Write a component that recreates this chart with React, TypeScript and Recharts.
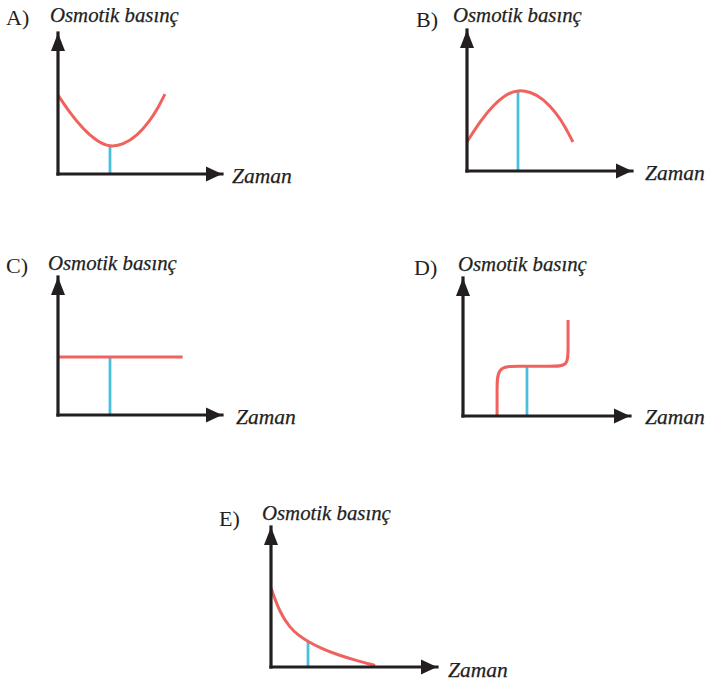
import React from 'react';
import { LineChart, Line, XAxis, YAxis, ReferenceLine, ReferenceDot } from 'recharts';

// Osmotik basınç – zaman eğrileri (A–E). Eksenler 0–100 birim, ok uçları 100'de.
// Eğriler basis ile yumuşatılıyor.
const zamanA = [0, 7.3, 15.2, 23.8, 31.7, 39.6, 48.2, 56.1, 61, 65.2];
const basincA = [56, 43.3, 32.1, 23.1, 19.1, 20.7, 27, 37.8, 46.9, 56.7];
const dropA = [31.7, 19.1];

const zamanB = [0, 7.9, 15.8, 24.2, 30.9, 38.2, 46.1, 54.5, 59.4, 64.2];
const basincB = [20.6, 35.1, 46.6, 54.9, 57.4, 56.3, 51.4, 40.6, 31.6, 20.6];
const dropB = [30.9, 57.4];

const zamanC = [0, 76];
const basincC = [42, 42];
const dropC = [31.7, 42];

// D: dik – yatay – dik, yuvarlatılmış köşeler
const zamanD = [20.4, 20.4, 20.4, 32.3, 53.3, 62.9, 62.9, 62.9];
const basincD = [0, 18.8, 36, 36, 36, 36, 47.8, 69.6];
const dropD = [38.3, 36];

const zamanE = [0, 5.4, 11.4, 16.3, 22.3, 30.7, 40.4, 50.6, 62.7];
const basincE = [56.4, 38.6, 28.2, 22.8, 18.1, 13.1, 8.6, 4.9, 1.1];
const dropE = [22.3, 18.1];

const INK = '#231f20';
const RED = '#f0625d';
const CYAN = '#4bc0da';
const SERIF = 'Liberation Serif';

type CurveType = 'monotone' | 'natural' | 'linear' | 'basis';

interface PanelProps {
  letter: string;
  zaman: number[];
  basinc: number[];
  drop: number[];
  curve: CurveType;
  // kutu (sayfa koordinatı) ve eksen köşesi / ok uçları
  left: number;
  top: number;
  width: number;
  height: number;
  ox: number;
  oy: number;
  tx: number;
  ty: number;
  letterPos: [number, number];
  titlePos: [number, number];
  timePos: [number, number];
}

const upArrow = (p: any) => (
  <polygon
    points={`${p.cx},${p.cy} ${p.cx - 7},${p.cy + 18} ${p.cx + 7},${p.cy + 18}`}
    fill={INK}
  />
);

const rightArrow = (p: any) => (
  <polygon
    points={`${p.cx},${p.cy} ${p.cx - 16},${p.cy - 7.5} ${p.cx - 16},${p.cy + 7.5}`}
    fill={INK}
  />
);

const axisStyle = { stroke: INK, strokeWidth: 3.2, strokeLinecap: 'square' as const };

const Panel: React.FC<PanelProps> = (props) => {
  const { left, top, width, height, ox, oy, tx, ty } = props;
  const data = props.zaman.map((z, i) => ({ z, p: props.basinc[i] }));
  // eksen alanları 1px: çizgi çizim alanının kenarına düşer
  const margin = {
    top: ty - top,
    left: ox - left - 1,
    right: left + width - tx,
    bottom: top + height - oy - 1,
  };
  const [dx, dy] = props.drop;

  return (
    <div style={{ position: 'absolute', left, top, width, height }}>
      <LineChart width={width} height={height} data={data} margin={margin}>
        <XAxis
          dataKey="z"
          type="number"
          domain={[0, 100]}
          allowDataOverflow
          height={1}
          tick={false}
          tickLine={false}
          axisLine={axisStyle}
        />
        <YAxis
          type="number"
          domain={[0, 100]}
          allowDataOverflow
          width={1}
          tick={false}
          tickLine={false}
          axisLine={axisStyle}
        />
        <ReferenceLine
          segment={[{ x: dx, y: 0 }, { x: dx, y: dy }]}
          stroke={CYAN}
          strokeWidth={2.8}
        />
        <Line
          dataKey="p"
          type={props.curve}
          stroke={RED}
          strokeWidth={3}
          dot={false}
          activeDot={false}
          isAnimationActive={false}
        />
        <ReferenceDot x={0} y={100} r={0} shape={upArrow} />
        <ReferenceDot x={100} y={0} r={0} shape={rightArrow} />
        <text x={props.letterPos[0]} y={props.letterPos[1]} fontFamily={SERIF} fontSize={22} fill={INK}>
          {props.letter})
        </text>
        <text
          x={props.titlePos[0]}
          y={props.titlePos[1]}
          fontFamily={SERIF}
          fontStyle="italic"
          fontSize={20.8}
          fill={INK}
          stroke={INK}
          strokeWidth={0.25}
        >
          Osmotik basınç
        </text>
        <text
          x={props.timePos[0]}
          y={props.timePos[1]}
          fontFamily={SERIF}
          fontStyle="italic"
          fontSize={21.5}
          fill={INK}
          stroke={INK}
          strokeWidth={0.25}
        >
          Zaman
        </text>
      </LineChart>
    </div>
  );
};

export default function App() {
  return (
    <div style={{ position: 'absolute', left: 0, top: 0, width: 705, height: 682, background: '#fff' }}>
      <Panel
        letter="A" zaman={zamanA} basinc={basincA} drop={dropA} curve="basis"
        left={0} top={0} width={300} height={200} ox={58} oy={174} tx={222} ty={33}
        letterPos={[6, 25]} titlePos={[50, 22]} timePos={[232, 183]}
      />
      <Panel
        letter="B" zaman={zamanB} basinc={basincB} drop={dropB} curve="basis"
        left={400} top={0} width={305} height={200} ox={467} oy={171} tx={632} ty={30}
        letterPos={[16, 27]} titlePos={[53, 22]} timePos={[245, 180]}
      />
      <Panel
        letter="C" zaman={zamanC} basinc={basincC} drop={dropC} curve="linear"
        left={0} top={250} width={300} height={180} ox={58} oy={415} tx={222} ty={277}
        letterPos={[6, 23]} titlePos={[48, 20]} timePos={[236, 174]}
      />
      <Panel
        letter="D" zaman={zamanD} basinc={basincD} drop={dropD} curve="basis"
        left={400} top={250} width={305} height={180} ox={463} oy={416} tx={630} ty={278}
        letterPos={[14, 25]} titlePos={[58, 21]} timePos={[245, 174]}
      />
      <Panel
        letter="E" zaman={zamanE} basinc={basincE} drop={dropE} curve="basis"
        left={200} top={495} width={320} height={187} ox={271} oy={667} tx={437} ty={527}
        letterPos={[19, 31]} titlePos={[62, 25]} timePos={[248, 182]}
      />
    </div>
  );
}
